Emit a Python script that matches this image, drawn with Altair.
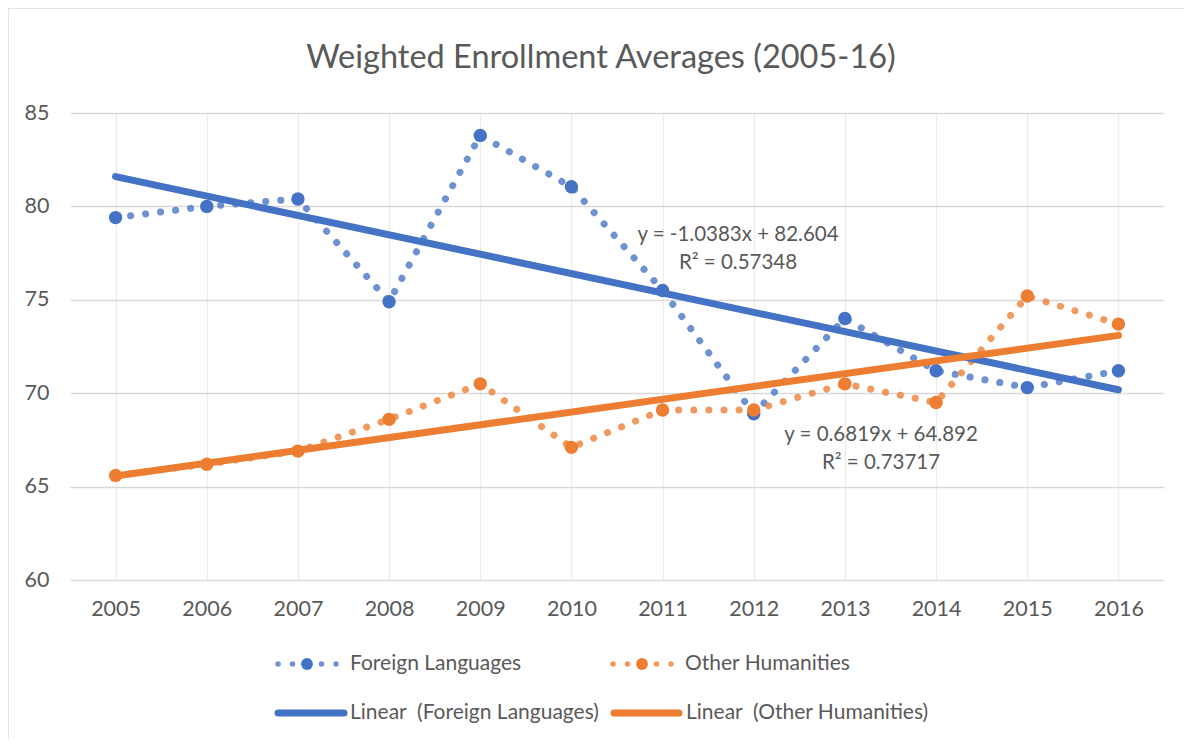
import altair as alt
import pandas as pd

years = [2005, 2006, 2007, 2008, 2009, 2010, 2011, 2012, 2013, 2014, 2015, 2016]
foreign_languages = [79.4, 80.0, 80.4, 74.9, 83.8, 81.05, 75.5, 68.9, 74.0, 71.2, 70.3, 71.2]
other_humanities = [65.6, 66.2, 66.9, 68.6, 70.5, 67.1, 69.1, 69.1, 70.5, 69.5, 75.2, 73.7]
series_names = ["Foreign Languages", "Other Humanities"]
series_colors = ["#4472C4", "#ED7D31"]
y_ticks = [60, 65, 70, 75, 80, 85]
title_text = "Weighted Enrollment Averages (2005-16)"
eq_foreign = ["y = -1.0383x + 82.604", "R² = 0.57348"]
eq_other = ["y = 0.6819x + 64.892", "R² = 0.73717"]

rows = []
for name, vals in zip(series_names, [foreign_languages, other_humanities]):
    for yr, v in zip(years, vals):
        rows.append({"year": yr, "value": v, "series": name})
df = pd.DataFrame(rows)
one = pd.DataFrame({"k": [0]})

FONT = "Lato"
TXT = "#595959"
W, H = 1094, 467

color = alt.Color("series:N", scale=alt.Scale(domain=series_names, range=series_colors), legend=None)
x_enc = alt.X("year:Q", scale=alt.Scale(domain=[2004.5, 2016.5], nice=False, zero=False),
              axis=alt.Axis(values=years, format="d", title="", grid=True, gridColor="#EDEDED",
                            gridWidth=1.5, domain=False, ticks=False, labelFontSize=21.5,
                            labelColor=TXT, labelFont=FONT, labelPadding=18))
y_enc = alt.Y("value:Q", scale=alt.Scale(domain=[60, 85], nice=False, zero=False),
              axis=alt.Axis(values=y_ticks, title="", grid=True, gridColor="#D9D9D9",
                            gridWidth=1.5, domain=False, ticks=False, labelFontSize=21.5,
                            labelColor=TXT, labelFont=FONT, labelPadding=21))

base = alt.Chart(df)
dotted = base.mark_line(strokeWidth=7, strokeDash=[0.1, 15], strokeCap="round", opacity=0.78).encode(
    x=x_enc, y=y_enc, color=color)
points = base.mark_circle(size=180, opacity=1).encode(x=x_enc, y=y_enc, color=color)
trend = base.transform_regression("year", "value", groupby=["series"]).mark_line(
    strokeWidth=7, strokeCap="round").encode(x=x_enc, y=y_enc, color=color)

layers = [dotted, points, trend]

# chart border
layers.append(alt.Chart(one).mark_rect(fillOpacity=0, stroke="#D9D9D9", strokeWidth=1.5).encode(
    x=alt.value(-62), x2=alt.value(W + 60), y=alt.value(-105), y2=alt.value(H + 250)))

# title
layers.append(alt.Chart(one).mark_text(font=FONT, fontSize=32.5, color=TXT, align="center",
                                       baseline="alphabetic").encode(
    x=alt.value(531), y=alt.value(-45), text=alt.value(title_text)))

# trendline equations
def label(txt, x, y):
    return alt.Chart(one).mark_text(font=FONT, fontSize=20.5, color=TXT, align="center",
                                    baseline="middle").encode(
        x=alt.value(x), y=alt.value(y), text=alt.value(txt))

layers += [label(eq_foreign[0], 668, 122), label(eq_foreign[1], 668, 150),
           label(eq_other[0], 811, 322), label(eq_other[1], 811, 350)]

# legend
def dot(x, y, c, size, op=1.0):
    return alt.Chart(one).mark_circle(size=size, opacity=op, color=c).encode(
        x=alt.value(x), y=alt.value(y))

def seg(x1, x2, y, c):
    return alt.Chart(one).mark_rule(strokeWidth=7, strokeCap="round", color=c).encode(
        x=alt.value(x1), x2=alt.value(x2), y=alt.value(y))

def ltext(txt, x, y):
    return alt.Chart(one).mark_text(font=FONT, fontSize=21, color=TXT, align="left",
                                    baseline="middle").encode(
        x=alt.value(x), y=alt.value(y), text=alt.value(txt))

r1, r2 = 551, 600
for c, x0, name in [(series_colors[0], 208, series_names[0]), (series_colors[1], 543, series_names[1])]:
    for dx in [0, 14.5, 43.5, 58]:
        layers.append(dot(x0 + dx, r1, c, 30, 0.78))
    layers.append(dot(x0 + 29, r1, c, 140))
    layers.append(ltext(name, x0 + 72, r1))
layers.append(seg(208, 274, r2, series_colors[0]))
layers.append(ltext("Linear\u00a0 (Foreign Languages)", 280, r2))
layers.append(seg(544, 609, r2, series_colors[1]))
layers.append(ltext("Linear\u00a0 (Other Humanities)", 616, r2))

chart = alt.layer(*layers).properties(
    width=W, height=H,
    autosize=alt.AutoSizeParams(type="none"),
    padding={"left": 62, "top": 105, "right": 20, "bottom": 159},
    background="white",
).configure_view(stroke=None)

chart.save("out.html", embed_options={"renderer": "svg", "actions": False})
